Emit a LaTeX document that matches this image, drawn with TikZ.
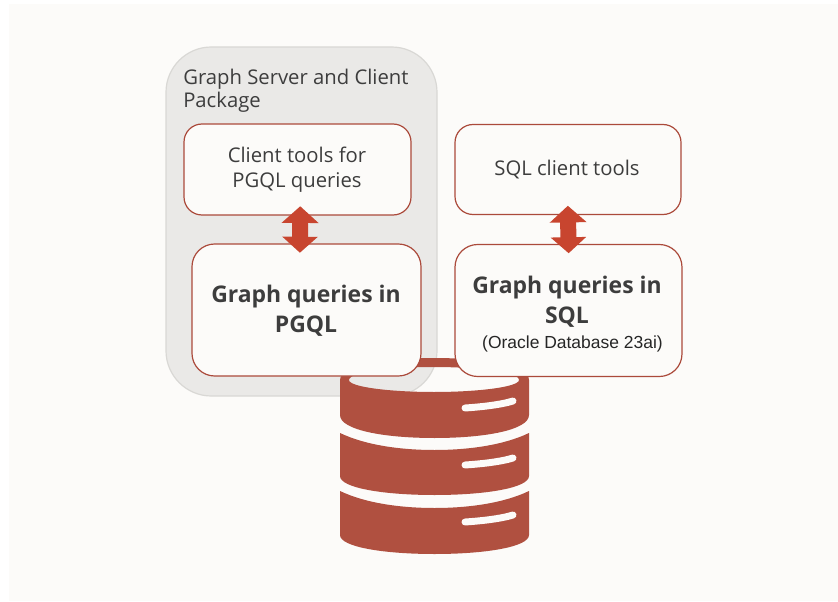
\documentclass[tikz,border=0pt]{standalone}
\usepackage{fontspec}
\setmainfont{Open Sans}
\newfontfamily\notefont{Liberation Sans}
\usetikzlibrary{arrows.meta}
\definecolor{PageColor}{HTML}{FCFBF9}
\definecolor{PackageFill}{HTML}{EAE9E7}
\definecolor{PackageEdge}{HTML}{D9D8D5}
\definecolor{BoxEdge}{HTML}{AB4A3B}
\definecolor{DbColor}{HTML}{B05040}
\definecolor{ArrowColor}{HTML}{C8452F}
\definecolor{TextColor}{HTML}{3D3D3D}
\tikzset{
    toolbox/.style={draw=BoxEdge, line width=0.9pt, fill=PageColor, rounded corners=13.5pt, text=TextColor, align=center, inner sep=0pt, font=\fontsize{15.2}{18.5}\selectfont},
    querybox/.style={toolbox, rounded corners=17pt, font=\fontsize{17.2}{22.5}\selectfont\bfseries},
    biarrow/.style={draw=ArrowColor, line width=12pt, {Triangle[length=12.5pt,width=27pt]}-{Triangle[length=12pt,width=26pt]}, shorten <=-7pt, shorten >=-7pt}
}
\begin{document}
\begin{tikzpicture}[x=0.75pt,y=-0.75pt]
\fill[white] (0,0) rectangle (838,602);
\fill[PageColor] (9,4) rectangle (838,601);
% package
\node[draw=PackageEdge, line width=0.9pt, fill=PackageFill, rounded corners=34pt, minimum width=271*0.75pt, minimum height=349*0.75pt] (package) at (301.5,221.5) {};
\node[anchor=west, align=left, inner sep=0pt, text=TextColor, font=\fontsize{15.2}{17.2}\selectfont] (packagelabel) at (183,91) {Graph Server and Client\\Package};
% database
\fill[DbColor, even odd rule] (340,380) .. controls (340,366) and (385,358) .. (434.5,358) .. controls (484,358) and (529,366) .. (529,380)
    -- (529,415) .. controls (529,430) and (485,438) .. (434.5,438) .. controls (384,438) and (340,430) .. (340,415) -- cycle
    (349,380) .. controls (349,372) and (390,367) .. (434,367) .. controls (478,367) and (519,372) .. (519,380) .. controls (519,387) and (478,392) .. (434,392) .. controls (390,392) and (349,387) .. (349,380) -- cycle;
\foreach \t/\b in {433/495,491/554}{
    \pgfmathsetmacro{\m}{\t+17}
    \pgfmathsetmacro{\s}{\b-19}
    \fill[DbColor] (340,\t) .. controls (365,\t+12) and (400,\m) .. (434.5,\m) .. controls (469,\m) and (504,\t+12) .. (529,\t)
        -- (529,\s) .. controls (529,\b-7) and (485,\b) .. (434.5,\b) .. controls (384,\b) and (340,\b-7) .. (340,\s) -- cycle;
}
\foreach \y in {0,57,114}{
    \draw[PageColor, line width=5.2pt, line cap=round] (465,408+\y) .. controls (480,407+\y) and (500,405+\y) .. (513,401+\y);
}
% boxes
\node[toolbox, minimum width=227*0.75pt, minimum height=91*0.75pt, text depth=0pt] (pgqlclient) at (297.5,169.5) {};
\node[text=TextColor, align=center, inner sep=0pt, font=\fontsize{15.2}{18.5}\selectfont] (pgqlclientlabel) at (297,169.5) {Client tools for\\PGQL queries};
\node[querybox, minimum width=229*0.75pt, minimum height=132*0.75pt] (pgql) at (306.5,310) {};
\node[text=TextColor, align=center, inner sep=0pt, font=\fontsize{17.2}{22.5}\selectfont\bfseries] (pgqllabel) at (306,311) {Graph queries in\\PGQL};
\node[toolbox, minimum width=226*0.75pt, minimum height=90*0.75pt] (sqlclient) at (568,169.5) {};
\node[text=TextColor, inner sep=0pt, font=\fontsize{15.2}{18.5}\selectfont] (sqlclientlabel) at (567,170) {SQL client tools};
\node[querybox, minimum width=227*0.75pt, minimum height=132*0.75pt] (sql) at (568.5,310.5) {};
\node[text=TextColor, align=center, inner sep=0pt, font=\fontsize{17.2}{22.5}\selectfont\bfseries] (sqllabel) at (567,301.5) {Graph queries in\\SQL};
\node[text=black!85, inner sep=0pt, font=\notefont\fontsize{13.1}{15}\selectfont] (sqlnote) at (572.5,344) {(Oracle Database 23ai)};
% arrows
\draw[biarrow] ([xshift=2pt]pgqlclient.south) -- ([xshift=-4.9pt]pgql.north);
\draw[biarrow] (sqlclient.south) -- (sql.north);
\end{tikzpicture}
\end{document}
